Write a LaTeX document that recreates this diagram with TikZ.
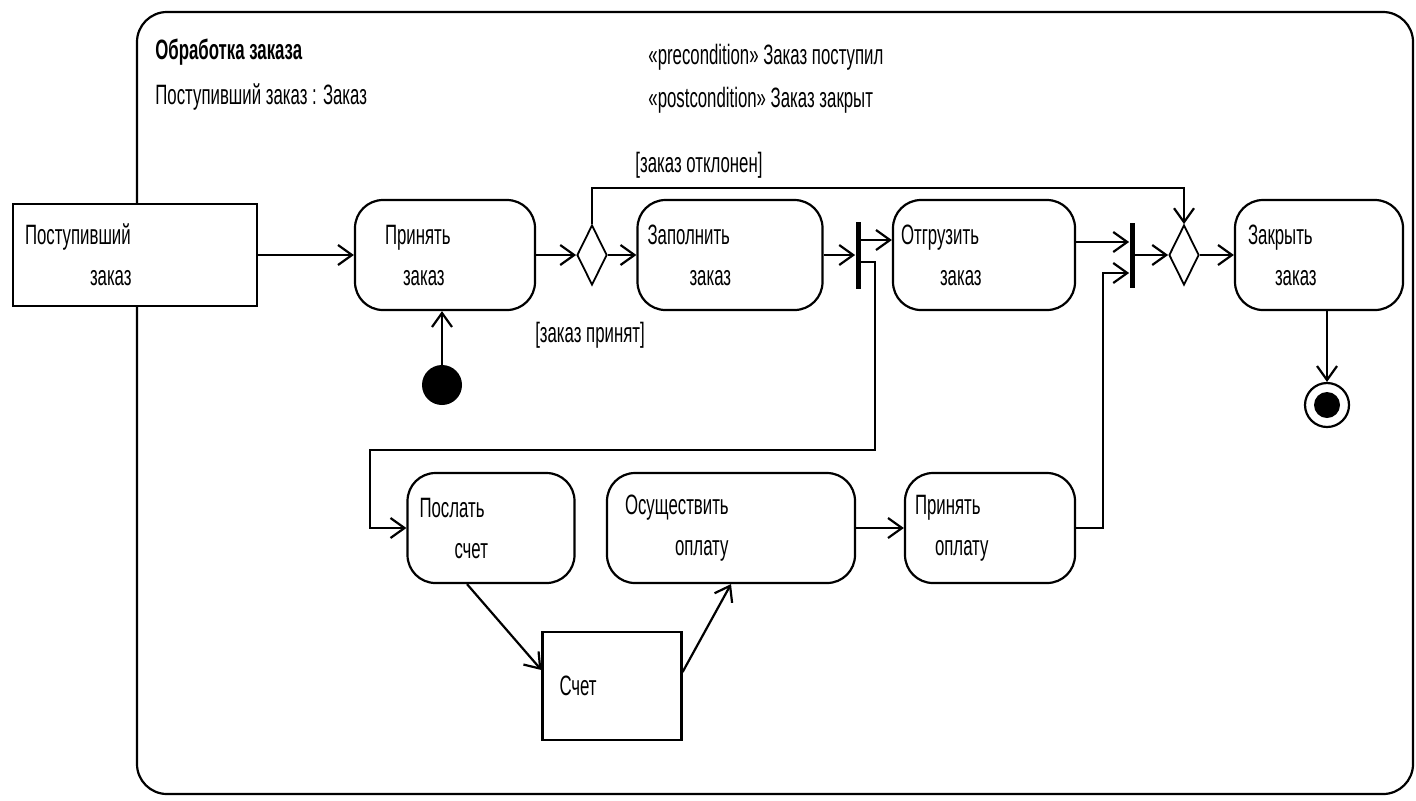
\documentclass[tikz,border=0pt]{standalone}
\usepackage{fontspec}
\setmainfont{Liberation Sans}[FakeStretch=0.6]
\usetikzlibrary{arrows.meta,shapes.geometric}
\newcommand{\twoline}[4]{\hspace*{#1}#2\\[4.5pt]\hspace*{#3}#4}

\begin{document}
\begin{tikzpicture}[x=0.5pt,y=-0.5pt,
  font=\fontsize{14}{16}\selectfont,
  act/.style={draw,line width=1.1pt,rounded corners=14pt,fill=white,minimum height=55pt,inner xsep=4pt,inner ysep=0pt,align=left},
  obj/.style={draw,line width=1.1pt,fill=white,inner xsep=4pt,inner ysep=0pt,align=left},
  bar/.style={fill=black,inner sep=0pt,minimum width=2.5pt},
  choice/.style={draw,diamond,line width=0.9pt,fill=white,inner sep=0pt,minimum width=15pt,minimum height=30pt,aspect=0.5},
  startdot/.style={circle,fill=black,minimum size=20pt,inner sep=0pt},
  finalring/.style={circle,draw,line width=1.1pt,fill=white,minimum size=22pt,inner sep=0pt},
  finaldot/.style={circle,fill=black,minimum size=13pt,inner sep=0pt},
  flow/.style={-{Straight Barb[length=7pt,width=10pt]},line width=1.1pt},
  note/.style={anchor=west,inner sep=0pt}
]
\useasboundingbox (0,0) rectangle (1416,800);
% activity frame
\draw[line width=1.1pt,rounded corners=15pt] (137,12) rectangle (1413,794);
\node[note,font=\fontsize{14}{16}\selectfont\bfseries] (title) at (155,52) {Обработка заказа};
\node[note] (param) at (155,97) {Поступивший заказ : Заказ};
\node[note] (pre) at (648,57) {«precondition» Заказ поступил};
\node[note] (post) at (648,100) {«postcondition» Заказ закрыт};

% upper row
\node[obj,text width=114pt,minimum height=51pt] (incoming) at (135,255) {\twoline{2pt}{Поступивший}{34.5pt}{заказ}};
\node[act,text width=82pt] (accept) at (445,255) {\twoline{11pt}{Принять}{20pt}{заказ}};
\node[choice] (dec1) at (592,255) {};
\node[act,text width=84.5pt] (fill) at (730,255) {\twoline{1pt}{Заполнить}{22pt}{заказ}};
\node[bar,minimum height=33.5pt] (fork1) at (858,255) {};
\node[act,text width=83pt] (ship) at (984,255) {\twoline{0pt}{Отгрузить}{19.5pt}{заказ}};
\node[bar,minimum height=32.5pt] (fork2) at (1132,255) {};
\node[choice] (dec2) at (1184,255) {};
\node[act,text width=76pt] (close) at (1319,255) {\twoline{2.5pt}{Закрыть}{16pt}{заказ}};
\node[startdot] (start) at (442,385) {};
\node[finalring] (stop) at (1327,405) {};
\node[finaldot] (stopdot) at (stop) {};
\node (rejected) at (699,165) {[заказ отклонен]};
\node (accepted) at (590,335) {[заказ принят]};

% lower row
\node[act,text width=75.5pt] (send) at (491,528) {\twoline{2pt}{Послать}{19.5pt}{счет}};
\node[act,text width=116pt] (pay) at (731,528) {\twoline{5pt}{Осуществить}{30pt}{оплату}};
\node[act,text width=77pt] (receive) at (990,528) {\twoline{1pt}{Принять}{11pt}{оплату}};
\node[obj,text width=61.5pt,minimum height=54pt] (invoice) at (612,686) {\hspace*{4.5pt}Счет};

% flows
\draw[flow] (incoming) -- (accept);
\draw[flow] (start) -- (start |- accept.south);
\draw[flow] (accept) -- (dec1);
\draw[flow] (dec1) -- (fill);
\coordinate (rejtop) at (592,188);
\draw[flow] (dec1.north) -- (rejtop) -| (dec2.north);
\draw[flow] (fill) -- (fork1);
\coordinate (f1a) at ([yshift=7.5pt]fork1.east);
\coordinate (f1b) at ([yshift=-3.5pt]fork1.east);
\draw[flow] (f1a) -- (f1a -| ship.west);
\coordinate (loopr) at (875,450);
\coordinate (loopl) at (370,450);
\draw[flow] (f1b) -| (loopr) -- (loopl) |- (send.west);
\draw[flow] ([xshift=-12pt]send.south) -- ([yshift=8pt]invoice.west);
\draw[flow] ([yshift=7pt]invoice.east) -- (pay.south);
\draw[flow] (pay) -- (receive);
\coordinate (f2a) at ([yshift=6.5pt]fork2.west);
\coordinate (f2b) at ([yshift=-9pt]fork2.west);
\coordinate (rise) at (1103,273);
\draw[flow] (f2a -| ship.east) -- (f2a);
\draw[flow] (receive) -| (rise) -- (f2b);
\draw[flow] (fork2) -- (dec2);
\draw[flow] (dec2) -- (close);
\draw[flow] (stop |- close.south) -- (stop);
\end{tikzpicture}
\end{document}
